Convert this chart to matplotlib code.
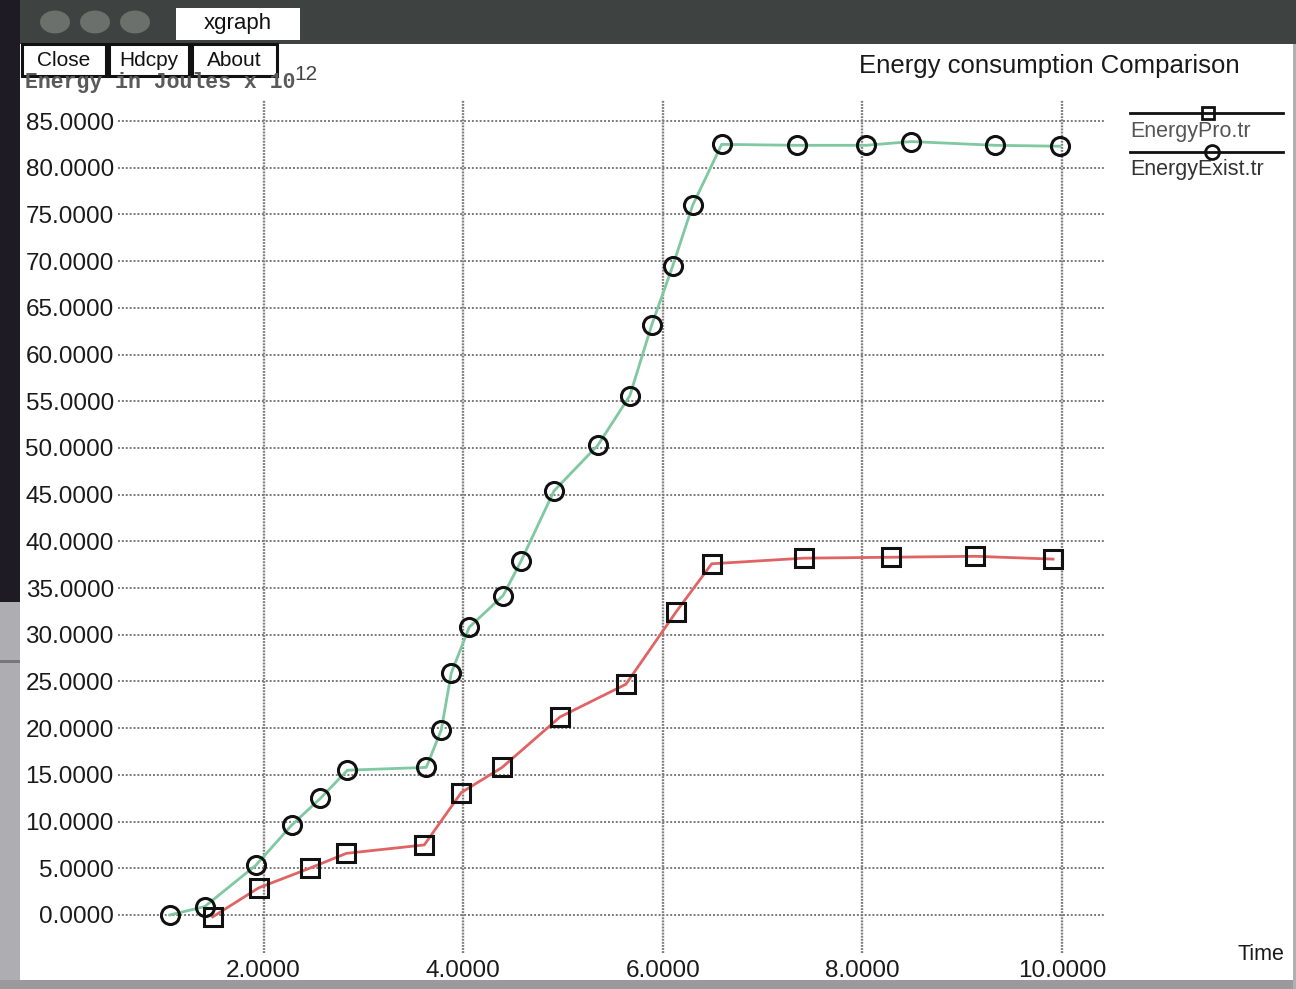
import matplotlib
matplotlib.use("Agg")
import matplotlib.pyplot as plt
from matplotlib.patches import Rectangle, Circle
from matplotlib.lines import Line2D

# ---------------- data ----------------
exist_time = [1.06, 1.41, 1.92, 2.28, 2.57, 2.84, 3.63, 3.78, 3.88, 4.06, 4.40, 4.58,
              4.91, 5.35, 5.67, 5.89, 6.10, 6.30, 6.59, 7.34, 8.04, 8.49, 9.33, 9.98]
exist_energy = [0.0, 0.9, 5.3, 9.6, 12.5, 15.5, 15.8, 19.8, 25.9, 30.8, 34.2, 37.9,
                45.4, 50.3, 55.6, 63.2, 69.5, 76.0, 82.5, 82.4, 82.4, 82.8, 82.4, 82.3]
pro_time = [1.49, 1.95, 2.46, 2.83, 3.61, 3.98, 4.39, 4.97, 5.63, 6.13, 6.49,
            7.41, 8.29, 9.13, 9.91]
pro_energy = [-0.2, 2.9, 5.0, 6.6, 7.5, 13.1, 15.8, 21.2, 24.7, 32.4, 37.6,
              38.2, 38.3, 38.4, 38.1]
y_ticks = list(range(0, 90, 5))
x_ticks = [2, 4, 6, 8, 10]
series_names = ["EnergyPro.tr", "EnergyExist.tr"]
title = "Energy consumption Comparison"
y_label = "Energy in Joules x 10"
x_label = "Time"
buttons = ["Close", "Hdcpy", "About"]

W, H = 1296, 989
fig = plt.figure(figsize=(W / 100, H / 100), dpi=100)
fig.patch.set_facecolor("white")

def fx(x):
    return x / W

def fy(y):
    return 1 - y / H

def rect(x0, y0, x1, y1, **kw):
    fig.add_artist(Rectangle((fx(x0), fy(y1)), fx(x1) - fx(x0), fy(y0) - fy(y1),
                             transform=fig.transFigure, **kw))

# window chrome
rect(0, 0, W, 44, facecolor="#3e4240", edgecolor="none")
rect(0, 0, 20, 602, facecolor="#1f1b24", edgecolor="none")
rect(0, 602, 20, H, facecolor="#aeaeb2", edgecolor="none")
rect(0, 660, 20, 663, facecolor="#777779", edgecolor="none")
rect(0, 980, W, H, facecolor="#9a9a9c", edgecolor="none")
rect(1293, 44, W, H, facecolor="#b0b0b0", edgecolor="none")
for cx in (55, 95, 135):
    fig.add_artist(Circle((fx(cx), fy(22)), 15 / W, transform=fig.transFigure,
                          facecolor="#6b706d", edgecolor="none"))
rect(176, 8, 300, 40, facecolor="white", edgecolor="none")
fig.text(fx(238), fy(24), "xgraph", ha="center", va="center", fontsize=16,
         family="Liberation Sans", color="#111111")

# axes
ax = fig.add_axes([fx(118), fy(953), fx(1105) - fx(118), fy(100) - fy(953)])
ax.set_xlim(0.541, 10.431)
ax.set_ylim(-4.07, 87.25)
for s in ax.spines.values():
    s.set_visible(False)
ax.set_yticks(y_ticks)
ax.set_yticklabels([f"{v:.4f}" for v in y_ticks])
ax.set_xticks(x_ticks)
ax.set_xticklabels([f"{v:.4f}" for v in x_ticks])
ax.tick_params(length=0, labelsize=17.5, pad=3, labelcolor="#1a1a1a")
ax.tick_params(axis="x", pad=5)
for lab in ax.get_xticklabels() + ax.get_yticklabels():
    lab.set_family("Liberation Sans")
ax.grid(True, axis="y", color="#7a7a7a", linestyle=(0, (1, 1)), linewidth=1.4)
ax.grid(True, axis="x", color="#7f7f7f", linestyle=(0, (0.8, 0.5)), linewidth=1.7)
ax.set_axisbelow(True)

ax.plot(exist_time, exist_energy, color="#7fc8a0", lw=2, zorder=2)
ax.plot(pro_time, pro_energy, color="#e06464", lw=2, zorder=2)
ax.plot(exist_time, exist_energy, ls="none", marker="o", ms=13, mfc="none",
        mec="#111111", mew=2.2, zorder=3)
ax.plot(pro_time, pro_energy, ls="none", marker="s", ms=12.5, mfc="none",
        mec="#111111", mew=2.2, zorder=3)

# y label (monospace, partly hidden by buttons)
fig.text(fx(25), fy(88), y_label, ha="left", va="baseline", fontsize=15.5,
         family="Liberation Mono", weight="bold", color="#5a5a5a")
fig.text(fx(294), fy(80), "12", ha="left", va="baseline", fontsize=15,
         family="Liberation Sans", color="#444444")

# buttons
bx = [(22, 106), (109, 189), (192, 277)]
for (x0, x1), name in zip(bx, buttons):
    rect(x0, 44, x1, 76, facecolor="white", edgecolor="#111111", linewidth=2.2)
    fig.text(fx((x0 + x1) / 2), fy(60), name, ha="center", va="center",
             fontsize=15, family="Liberation Sans", color="#111111")

# title and x label
fig.text(fx(1240), fy(66), title, ha="right", va="center", fontsize=18.5,
         family="Liberation Sans", color="#1a1a1a")
fig.text(fx(1284), fy(955), x_label, ha="right", va="center", fontsize=15.5,
         family="Liberation Sans", color="#1a1a1a")

# legend
fig.add_artist(Line2D([fx(1130), fx(1283)], [fy(113), fy(113)], transform=fig.transFigure,
                      color="#111111", lw=2))
fig.add_artist(Line2D([fx(1208)], [fy(113)], transform=fig.transFigure, ls="none",
                      marker="s", ms=8.5, mfc="none", mec="#111111", mew=2))
fig.add_artist(Line2D([fx(1130), fx(1283)], [fy(152), fy(152)], transform=fig.transFigure,
                      color="#111111", lw=2))
fig.add_artist(Line2D([fx(1212)], [fy(152)], transform=fig.transFigure, ls="none",
                      marker="o", ms=10, mfc="none", mec="#111111", mew=2))
fig.text(fx(1130), fy(131), series_names[0], ha="left", va="center", fontsize=15.5,
         family="Liberation Sans", color="#555555")
fig.text(fx(1130), fy(169), series_names[1], ha="left", va="center", fontsize=15.5,
         family="Liberation Sans", color="#333333")

fig.savefig("out.png", dpi=100, facecolor="white")
